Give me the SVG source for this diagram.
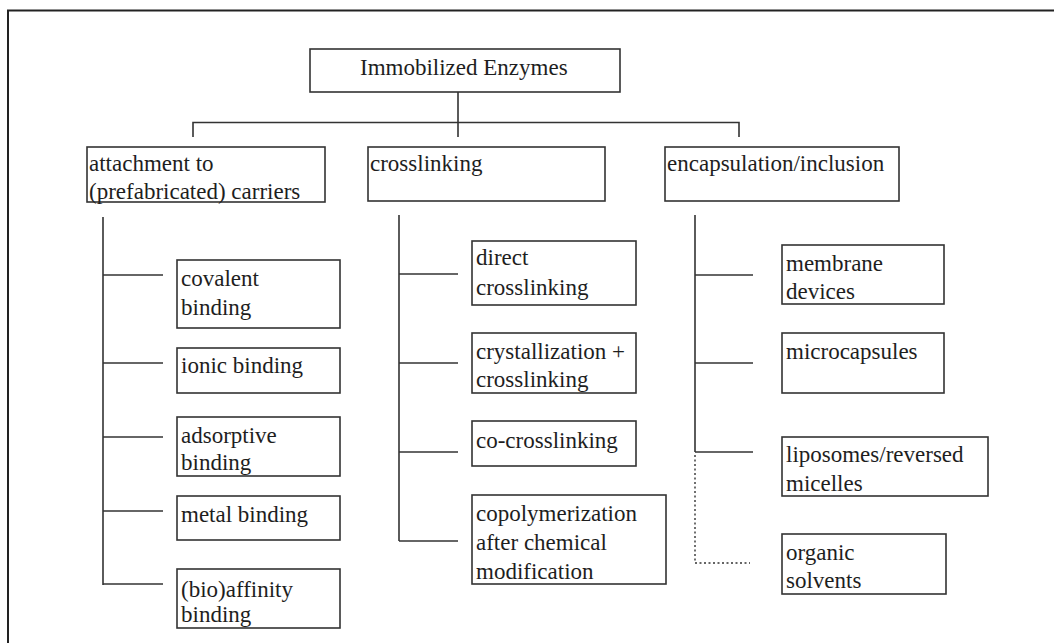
<svg xmlns="http://www.w3.org/2000/svg" width="1054" height="643" viewBox="0 0 1054 643">
<style>
.box{fill:#fff;stroke:#333;stroke-width:1.6}
.t{font-family:"Liberation Serif","Times New Roman",serif;font-size:23px;fill:#1e1e1e}
.c line,.c path{stroke:#333;stroke-width:1.6;fill:none}
.c .dot{stroke-dasharray:2 2.5;stroke-width:1.4}
</style>
<rect width="1054" height="643" fill="#fff"/>
<g id="frame"><path d="M8,643 V10.5 H1054" fill="none" stroke="#222" stroke-width="2"/></g>
<g class="c" id="connectors">
<path d="M458,92 V137 M193,137 V122.5 H739 V137"/>
<line x1="103" y1="217" x2="103" y2="585"/>
<line x1="103" y1="275" x2="163" y2="275"/>
<line x1="103" y1="363" x2="163" y2="363"/>
<line x1="103" y1="437" x2="163" y2="437"/>
<line x1="103" y1="511" x2="163" y2="511"/>
<line x1="103" y1="584" x2="163" y2="584"/>
<line x1="399" y1="215" x2="399" y2="541"/>
<line x1="399" y1="274" x2="458" y2="274"/>
<line x1="399" y1="363" x2="458" y2="363"/>
<line x1="399" y1="452" x2="458" y2="452"/>
<line x1="399" y1="541" x2="458" y2="541"/>
<line x1="695" y1="215" x2="695" y2="452"/>
<line x1="695" y1="275" x2="753" y2="275"/>
<line x1="695" y1="363" x2="753" y2="363"/>
<line x1="695" y1="452" x2="753" y2="452"/>
<path class="dot" d="M695,455 V563 H750"/>
</g>
<g id="n-root"><rect class="box" x="310" y="49" width="310" height="43"/><text class="t" x="360" y="75">Immobilized Enzymes</text></g>
<g id="n-attach"><rect class="box" x="87" y="147" width="238" height="55"/><text class="t" x="89" y="171">attachment to</text><text class="t" x="89" y="199">(prefabricated) carriers</text></g>
<g id="n-cross"><rect class="box" x="368" y="147" width="237" height="54"/><text class="t" x="370" y="171">crosslinking</text></g>
<g id="n-encap"><rect class="box" x="665" y="147" width="234" height="54"/><text class="t" x="667" y="171">encapsulation/inclusion</text></g>
<g id="n-covalent"><rect class="box" x="177" y="260" width="163" height="68"/><text class="t" x="181" y="286">covalent</text><text class="t" x="181" y="315">binding</text></g>
<g id="n-ionic"><rect class="box" x="177" y="348" width="163" height="45"/><text class="t" x="181" y="373">ionic binding</text></g>
<g id="n-adsorptive"><rect class="box" x="177" y="417" width="163" height="59"/><text class="t" x="181" y="443">adsorptive</text><text class="t" x="181" y="470">binding</text></g>
<g id="n-metal"><rect class="box" x="177" y="496" width="163" height="44"/><text class="t" x="181" y="522">metal binding</text></g>
<g id="n-bio"><rect class="box" x="177" y="569" width="163" height="59"/><text class="t" x="181" y="597">(bio)affinity</text><text class="t" x="181" y="622">binding</text></g>
<g id="n-direct"><rect class="box" x="472" y="241" width="164" height="64"/><text class="t" x="476" y="265">direct</text><text class="t" x="476" y="295">crosslinking</text></g>
<g id="n-cryst"><rect class="box" x="472" y="333" width="164" height="60"/><text class="t" x="476" y="359">crystallization +</text><text class="t" x="476" y="387">crosslinking</text></g>
<g id="n-co"><rect class="box" x="472" y="421" width="164" height="45"/><text class="t" x="476" y="448">co-crosslinking</text></g>
<g id="n-copoly"><rect class="box" x="472" y="495" width="194" height="89"/><text class="t" x="476" y="521">copolymerization</text><text class="t" x="476" y="550">after chemical</text><text class="t" x="476" y="579">modification</text></g>
<g id="n-membrane"><rect class="box" x="782" y="245" width="162" height="59"/><text class="t" x="786" y="271">membrane</text><text class="t" x="786" y="299">devices</text></g>
<g id="n-micro"><rect class="box" x="782" y="333" width="162" height="60"/><text class="t" x="786" y="359">microcapsules</text></g>
<g id="n-lipo"><rect class="box" x="782" y="437" width="206" height="59"/><text class="t" x="786" y="462">liposomes/reversed</text><text class="t" x="786" y="491">micelles</text></g>
<g id="n-organic"><rect class="box" x="782" y="534" width="164" height="60"/><text class="t" x="786" y="560">organic</text><text class="t" x="786" y="588">solvents</text></g>
</svg>
